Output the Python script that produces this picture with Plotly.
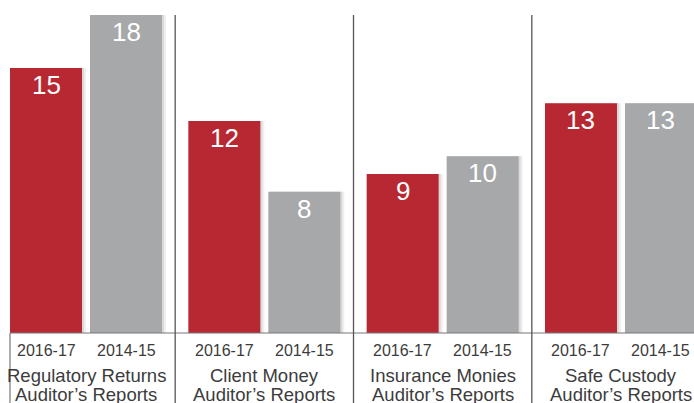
import plotly.graph_objects as go

categories_line1 = ["Regulatory Returns", "Client Money", "Insurance Monies", "Safe Custody"]
categories_line2 = ["Auditor\u2019s Reports"] * 4
series_names = ["2016-17", "2014-15"]
values_2016_17 = [15, 12, 9, 13]
values_2014_15 = [18, 8, 10, 13]

RED = "#B72832"
GRAY = "#A7A8AA"
TEXT = "#3c3c3c"
FONT = "Liberation Sans, Arial, Helvetica, sans-serif"

PITCH = 178.33  # px per group
OFF = 40 / PITCH
BW = 72 / PITCH
PX = 1 / PITCH
UNIT = 17.667  # px per value unit

n = len(categories_line1)
xr = [i - OFF for i in range(n)]
xg = [i + OFF for i in range(n)]

fig = go.Figure()
# soft shadows
for dx, col in [(4 * PX, "#efefef"), (2 * PX, "#d9d9d9")]:
    fig.add_trace(go.Bar(x=[v + dx for v in xr], y=values_2016_17, width=BW,
                         marker=dict(color=col, line=dict(width=0)), hoverinfo="skip", showlegend=False))
    fig.add_trace(go.Bar(x=[v + dx for v in xg], y=values_2014_15, width=BW,
                         marker=dict(color=col, line=dict(width=0)), hoverinfo="skip", showlegend=False))

fig.add_trace(go.Bar(x=xr, y=values_2016_17, width=BW, name=series_names[0],
                     marker=dict(color=RED, line=dict(width=0))))
fig.add_trace(go.Bar(x=xg, y=values_2014_15, width=BW, name=series_names[1],
                     marker=dict(color=GRAY, line=dict(width=0))))

ann = []
for i in range(n):
    for x, v in [(xr[i], values_2016_17[i]), (xg[i], values_2014_15[i])]:
        ann.append(dict(x=x, y=v, xref="x", yref="y", text=str(v), showarrow=False,
                        yanchor="top", yshift=0,
                        font=dict(family=FONT, size=26, color="white")))
    for x, s in [(xr[i], series_names[0]), (xg[i], series_names[1])]:
        ann.append(dict(x=x, y=-17 / UNIT, xref="x", yref="y", text=s, showarrow=False,
                        yanchor="middle", font=dict(family=FONT, size=16, color=TEXT)))
    ann.append(dict(x=i, y=-42.5 / UNIT, xref="x", yref="y", text=categories_line1[i], showarrow=False,
                    yanchor="middle", font=dict(family=FONT, size=18.5, color=TEXT)))
    ann.append(dict(x=i, y=-61.5 / UNIT, xref="x", yref="y", text=categories_line2[i], showarrow=False,
                    yanchor="middle", font=dict(family=FONT, size=18.5, color=TEXT)))

shapes = []
ymin = -(403 - 333) / UNIT
ymax = 333 / UNIT
# baseline
shapes.append(dict(type="line", xref="x", yref="y", x0=-76 / PITCH, x1=3.5, y0=0, y1=0,
                   line=dict(color="#777777", width=1.2)))
# left edge tick line
shapes.append(dict(type="line", xref="x", yref="y", x0=-76 / PITCH, x1=-76 / PITCH, y0=0, y1=ymin,
                   line=dict(color="#777777", width=1.2)))
# separators
for i in range(n - 1):
    shapes.append(dict(type="line", xref="x", yref="y", x0=i + 0.5, x1=i + 0.5, y0=max(values_2014_15), y1=ymin,
                       line=dict(color="#555555", width=1.3)))

fig.update_layout(
    width=694, height=403,
    margin=dict(l=0, r=0, t=0, b=0),
    paper_bgcolor="white", plot_bgcolor="white",
    barmode="overlay", showlegend=False,
    xaxis=dict(range=[-86 / PITCH, (694 - 86) / PITCH], visible=False, fixedrange=True),
    yaxis=dict(range=[ymin, ymax], visible=False, fixedrange=True),
    annotations=ann, shapes=shapes,
)

fig.write_html("out.html", config={"displayModeBar": False, "staticPlot": True},
               post_script="document.body.style.margin='0';document.body.style.overflow='hidden';")
